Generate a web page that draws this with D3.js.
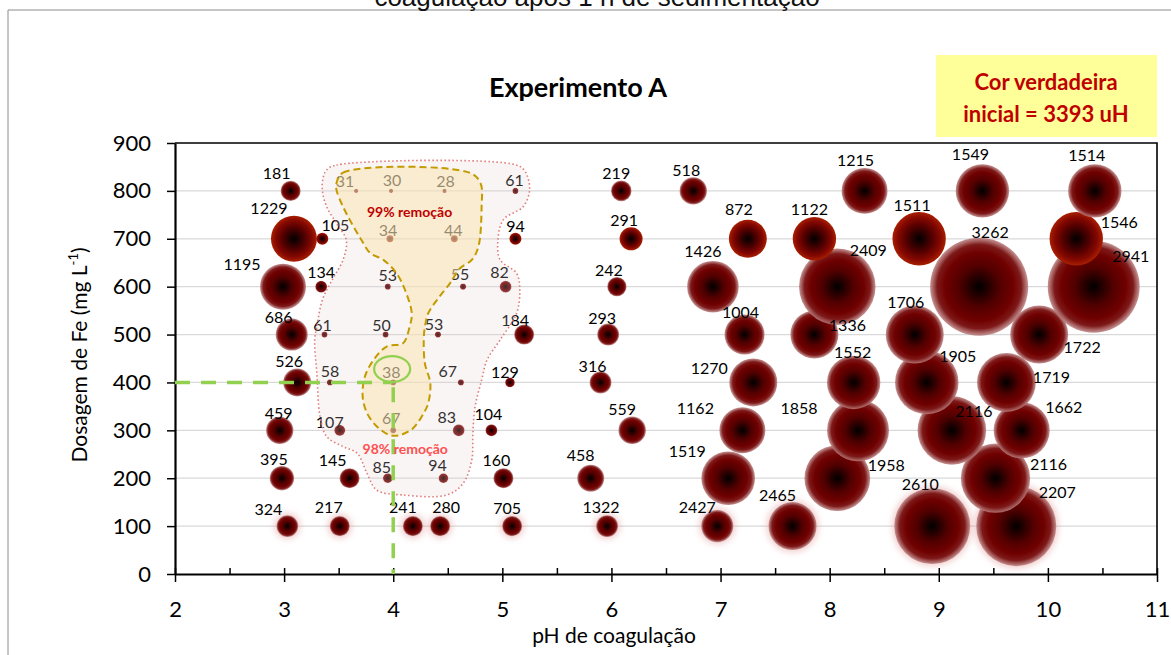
<!DOCTYPE html>
<html>
<head>
<meta charset="utf-8">
<script src="https://cdn.jsdelivr.net/npm/d3@7"></script>
<style>
  body { margin: 0; background: #fff; }
  svg { display: block; }
</style>
</head>
<body>
<svg width="1171" height="655"></svg>
<script>
// Experimento A - bubble chart (pH x dosagem de Fe), label = cor verdadeira remanescente
window.onload = main;

const dosage = [800, 700, 600, 500, 400, 300, 200, 100];

// one row per dosage
const phValues = [
  [3.06, 3.66, 3.98, 4.47, 5.12, 6.09, 6.75, 8.32, 9.40, 10.43],
  [3.09, 3.35, 3.97, 4.56, 5.12, 6.18, 7.25, 7.86, 8.82, 10.26],
  [2.99, 3.34, 3.95, 4.64, 5.03, 6.05, 6.93, 8.07, 9.37, 10.42],
  [3.07, 3.37, 3.93, 4.41, 5.20, 5.97, 7.22, 7.86, 8.78, 9.92],
  [3.12, 3.42, 4.00, 4.62, 5.07, 5.90, 7.30, 8.22, 8.89, 9.62],
  [2.96, 3.51, 4.00, 4.60, 4.90, 6.19, 7.20, 8.26, 9.12, 9.76],
  [2.98, 3.60, 3.95, 4.46, 5.01, 5.81, 7.07, 8.07, 9.52],
  [3.03, 3.51, 4.18, 4.43, 5.09, 5.96, 6.97, 7.66, 8.94, 9.71]
];

const corValues = [
  [181, 31, 30, 28, 61, 219, 518, 1215, 1549, 1514],
  [1229, 105, 34, 44, 94, 291, 872, 1122, 1511, 1546],
  [1195, 134, 53, 55, 82, 242, 1426, 2409, 3262, 2941],
  [686, 61, 50, 53, 184, 293, 1004, 1336, 1706, 1722],
  [526, 58, 38, 67, 129, 316, 1270, 1552, 1905, 1719],
  [459, 107, 67, 83, 104, 559, 1162, 1858, 2116, 1662],
  [395, 145, 85, 94, 160, 458, 1519, 1958, 2116],
  [324, 217, 241, 280, 705, 1322, 2427, 2465, 2610, 2207]
];

// bubble size column (relative units)
const bubbleSize = [
  [4.2, 0.2, 0.2, 0.2, 0.4, 4.4, 7.8, 22, 29.7, 29.7],
  [22, 1.5, 0.5, 0.5, 1.5, 5.5, 15, 19.6, 29.7, 29.7],
  [22, 1.5, 0.4, 0.4, 1.5, 3.9, 27.7, 61, 100, 88],
  [10.7, 0.4, 0.4, 0.4, 4.2, 5, 16.7, 24, 35, 35],
  [8.2, 0.4, 0.4, 0.4, 1, 5, 24, 29.7, 42, 36],
  [7.8, 1.3, 0.4, 1.5, 1.5, 7.9, 22, 40, 49, 32.7],
  [6.2, 4.2, 1, 1, 4.2, 7.6, 30, 45, 50],
  [4.9, 4.2, 4.2, 4.2, 4.2, 5, 10.7, 24, 60, 66.7]
];

// hand placed data labels (px offset from bubble centre)
const labelDx = [
  [-14, -11, 1, 1, -1, -5, -7, -9, -12, -8],
  [-25, 13, -2, -1, 0, -7, -9, -5, -7, 43],
  [-41, 0, 0, -3, -6, -8, -10, 31, 11, 37],
  [-13, -2, -4, -4, -9, -6, -4, 33, -9, 43],
  [-8, 0, -2, -13, -5, -8, -44, -1, 31, 45],
  [-1, -10, -2, -12, -3, -10, -47, -59, 22, 42],
  [-8, -17, -6, -6, -7, -10, -41, 49, 53],
  [-19, -11, -10, 6, -5, -6, -20, -15, -12, 41]
];
const labelDy = [
  [-18, -10, -11, -10, -11, -18, -21, -31, -37, -36],
  [-31, -14, -9, -9, -13, -19, -30, -30, -34, -17],
  [-23, -15, -12, -13, -15, -17, -36, -37, -55, -31],
  [-18, -10, -10, -11, -15, -17, -23, -10, -33, 12],
  [-22, -12, -11, -12, -11, -17, -15, -31, -27, -6],
  [-18, -9, -13, -14, -17, -22, -23, -23, -20, -24],
  [-20, -19, -12, -14, -19, -24, -28, -14, -15],
  [-18, -20, -20, -20, -19, -20, -20, -32, -43, -35]
];

// row styles: 700 has bright edges, 100 has a glow
const rowStyle = ['A', 'B', 'A', 'A', 'A', 'A', 'A', 'C'];

const xTicks = [2, 3, 4, 5, 6, 7, 8, 9, 10, 11];
const yTicks = [0, 100, 200, 300, 400, 500, 600, 700, 800, 900];

// annotation outlines, [pH, dose]
const pinkOutline = [
  [3.39, 844], [3.48, 854], [5.13, 854], [5.21, 840], [5.25, 802], [5.19, 767],
  [5.01, 740], [4.96, 698], [4.98, 656], [5.13, 628], [5.16, 593], [5.13, 544],
  [4.98, 489], [4.86, 447], [4.81, 405], [4.75, 349], [4.73, 294], [4.72, 238],
  [4.64, 189], [4.49, 165], [4.09, 165], [3.85, 175], [3.76, 210], [3.67, 252],
  [3.54, 266], [3.39, 287], [3.33, 328], [3.30, 419], [3.28, 489], [3.30, 516],
  [3.35, 572], [3.44, 614], [3.54, 656], [3.57, 697], [3.48, 732], [3.39, 767],
  [3.35, 802], [3.36, 830]
];
const yellowOutline = [
  [3.48, 816], [3.54, 838], [4.70, 838], [4.80, 816], [4.81, 767], [4.78, 683],
  [4.72, 656], [4.61, 638], [4.52, 607], [4.40, 572], [4.32, 544], [4.29, 516],
  [4.28, 489], [4.29, 440], [4.34, 398], [4.32, 356], [4.28, 336], [4.18, 304],
  [4.06, 290], [3.97, 290], [3.85, 308], [3.76, 336], [3.72, 370], [3.74, 412],
  [3.82, 447], [3.94, 475], [4.09, 482], [4.15, 516], [4.17, 544], [4.12, 586],
  [4.03, 628], [3.91, 656], [3.79, 670], [3.71, 697], [3.62, 732], [3.54, 767],
  [3.48, 802]
];

const x = d3.scaleLinear().domain([2, 11]).range([175, 1157]);
const y = d3.scaleLinear().domain([0, 900]).range([574, 143]);
const r = d3.scaleSqrt().domain([0, 100]).range([0, 49]);

function buildPoints(){
  let pts = [];
  dosage.forEach((dose, i) => {
    phValues[i].forEach((ph, j) => {
      pts.push({dose: dose, ph: ph, cor: corValues[i][j], size: bubbleSize[i][j],
                dx: labelDx[i][j], dy: labelDy[i][j], style: rowStyle[i], row: i});
    });
  });
  return pts;
}

function makeDefs(svg){
  let defs = svg.append('defs');
  let gA = defs.append('radialGradient').attr('id', 'gradA');
  [[0, '#000000', 1], [0.42, '#520000', 1], [0.7, '#700000', 1],
   [0.86, '#7e1a1a', 1], [1, '#bb8080', 0.85]].forEach(s =>
    gA.append('stop').attr('offset', s[0]).attr('stop-color', s[1]).attr('stop-opacity', s[2]));
  let gB = defs.append('radialGradient').attr('id', 'gradB');
  [[0, '#000000'], [0.5, '#550000'], [0.8, '#860800'], [1, '#a82000']].forEach(s =>
    gB.append('stop').attr('offset', s[0]).attr('stop-color', s[1]));
  defs.append('filter').attr('id', 'glow')
      .attr('x', '-50%').attr('y', '-50%').attr('width', '200%').attr('height', '200%')
      .append('feGaussianBlur').attr('stdDeviation', 3);
}

function drawFrame(svg){
  // outer chart border (cropped screenshot)
  svg.append('path').attr('d', 'M8,655V10H1171')
     .attr('fill', 'none').attr('stroke', '#8c8c8c').attr('stroke-width', 1);
  svg.append('text').attr('x', 597).attr('y', 6)
     .attr('text-anchor', 'middle').attr('font-family', 'Liberation Sans, Arial')
     .attr('font-size', 26).attr('fill', '#111')
     .text('coagulação após 1 h de sedimentação');

  svg.append('g').selectAll('line').data(yTicks.filter(d => d > 0 && d < 900))
     .join('line')
     .attr('x1', x(2)).attr('x2', x(11))
     .attr('y1', d => y(d)).attr('y2', d => y(d))
     .attr('stroke', '#d9d9d9').attr('stroke-width', 1.3);

  svg.append('path')
     .attr('d', `M${x(2)},${y(900)}H${x(11)}V${y(0)}`)
     .attr('fill', 'none').attr('stroke', '#000').attr('stroke-width', 1.6);
}

function drawAxes(svg){
  let gx = svg.append('g').attr('transform', `translate(0,${y(0)})`)
     .call(d3.axisBottom(x).tickValues(xTicks).tickFormat(d3.format('d'))
           .tickSizeInner(8).tickSizeOuter(0).tickPadding(19));
  gx.select('.domain').attr('stroke-width', 2.2);
  gx.selectAll('.tick line').attr('y1', -6).attr('stroke-width', 1.5);
  gx.selectAll('text').attr('font-family', 'Lato').attr('font-size', 22).attr('fill', '#000');

  let gm = svg.append('g').attr('transform', `translate(0,${y(0)})`)
     .call(d3.axisBottom(x).tickValues(d3.range(2.5, 11, 1)).tickSize(-6).tickFormat(''));
  gm.select('.domain').remove();
  gm.selectAll('.tick line').attr('stroke-width', 1.5);

  let gy = svg.append('g').attr('transform', `translate(${x(2)},0)`)
     .call(d3.axisLeft(y).tickValues(yTicks).tickSizeInner(8).tickSizeOuter(0).tickPadding(16));
  gy.select('.domain').attr('stroke-width', 2.2);
  gy.selectAll('.tick line').attr('stroke-width', 1.5);
  gy.selectAll('text').attr('font-family', 'Lato').attr('font-size', 22).attr('fill', '#000');

  svg.append('text').attr('x', 614).attr('y', 643)
     .attr('text-anchor', 'middle').attr('font-family', 'Lato').attr('font-size', 21)
     .text('pH de coagulação');

  let yt = svg.append('text').attr('transform', 'translate(87,355) rotate(-90)')
     .attr('text-anchor', 'middle').attr('font-family', 'Lato').attr('font-size', 21);
  yt.append('tspan').text('Dosagem de Fe (mg L');
  yt.append('tspan').attr('font-size', 13).attr('dy', -9).text('-1');
  yt.append('tspan').attr('dy', 9).text(')');

  svg.append('text').attr('x', 578).attr('y', 97)
     .attr('text-anchor', 'middle').attr('font-family', 'Lato').attr('font-weight', 'bold')
     .attr('font-size', 27).text('Experimento A');
}

function drawBubbles(svg, pts){
  let order = pts.slice().sort((a, b) => a.dose - b.dose);
  let g = svg.append('g');
  g.selectAll('circle.glow').data(order.filter(d => d.style === 'C'))
   .join('circle').attr('class', 'glow')
   .attr('cx', d => x(d.ph)).attr('cy', d => y(d.dose)).attr('r', d => r(d.size) + 2)
   .attr('fill', '#e09090').attr('opacity', 0.45).attr('filter', 'url(#glow)');
  g.selectAll('circle.bub').data(order)
   .join('circle').attr('class', 'bub')
   .attr('cx', d => x(d.ph)).attr('cy', d => y(d.dose)).attr('r', d => r(d.size))
   .attr('fill', d => d.style === 'B' ? 'url(#gradB)' : 'url(#gradA)');
}

function labelBubbles(svg, pts){
  svg.append('g').selectAll('text').data(pts, d => d.dose + '_' + d.ph)
     .join('text')
     .attr('x', d => x(d.ph) + d.dx).attr('y', d => y(d.dose) + d.dy)
     .attr('text-anchor', 'middle').attr('dominant-baseline', 'central')
     .attr('font-family', 'Lato').attr('font-size', 16).attr('fill', '#000')
     .text(d => d.cor);
}

function drawAnnotations(svg){
  let line = d3.line().x(d => x(d[0])).y(d => y(d[1])).curve(d3.curveCatmullRomClosed.alpha(0.5));
  svg.append('path').attr('d', line(pinkOutline))
     .attr('fill', 'rgb(228,208,208)').attr('fill-opacity', 0.22)
     .attr('stroke', '#e07a7a').attr('stroke-width', 1.6).attr('stroke-dasharray', '1.5,2.5');
  svg.append('path').attr('d', line(yellowOutline))
     .attr('fill', 'rgb(252,228,172)').attr('fill-opacity', 0.5)
     .attr('stroke', '#c39a00').attr('stroke-width', 2).attr('stroke-dasharray', '7,4');

  let green = '#92d050';
  svg.append('line').attr('x1', x(2)).attr('x2', x(3.99)).attr('y1', y(400)).attr('y2', y(400))
     .attr('stroke', green).attr('stroke-width', 3.5).attr('stroke-dasharray', '15,11');
  svg.append('line').attr('x1', x(4)).attr('x2', x(4)).attr('y1', y(390)).attr('y2', y(0))
     .attr('stroke', green).attr('stroke-width', 3.5).attr('stroke-dasharray', '15,11');
  svg.append('ellipse').attr('cx', x(3.99)).attr('cy', y(428)).attr('rx', 18).attr('ry', 13)
     .attr('fill', 'none').attr('stroke', green).attr('stroke-width', 2.2);

  svg.append('text').attr('x', x(4.15)).attr('y', y(758))
     .attr('text-anchor', 'middle').attr('dominant-baseline', 'central')
     .attr('font-family', 'Lato').attr('font-weight', 'bold').attr('font-size', 14)
     .attr('fill', '#c00000').text('99% remoção');
  svg.append('text').attr('x', x(4.11)).attr('y', y(263))
     .attr('text-anchor', 'middle').attr('dominant-baseline', 'central')
     .attr('font-family', 'Lato').attr('font-weight', 'bold').attr('font-size', 14)
     .attr('fill', '#ff5050').text('98% remoção');

  svg.append('rect').attr('x', 936).attr('y', 55).attr('width', 221).attr('height', 82)
     .attr('fill', '#ffff99');
  [['Cor verdadeira', 81], ['inicial = 3393 uH', 113]].forEach(t =>
    svg.append('text').attr('x', 1046).attr('y', t[1])
       .attr('text-anchor', 'middle').attr('dominant-baseline', 'central')
       .attr('font-family', 'Lato').attr('font-weight', 'bold').attr('font-size', 22)
       .attr('fill', '#c00000').text(t[0]));
}

function main(){
  let svg = d3.select('svg');
  let pts = buildPoints();
  makeDefs(svg);
  drawFrame(svg);
  drawBubbles(svg, pts);
  drawAxes(svg);
  labelBubbles(svg, pts);
  drawAnnotations(svg);
}
</script>
</body>
</html>
